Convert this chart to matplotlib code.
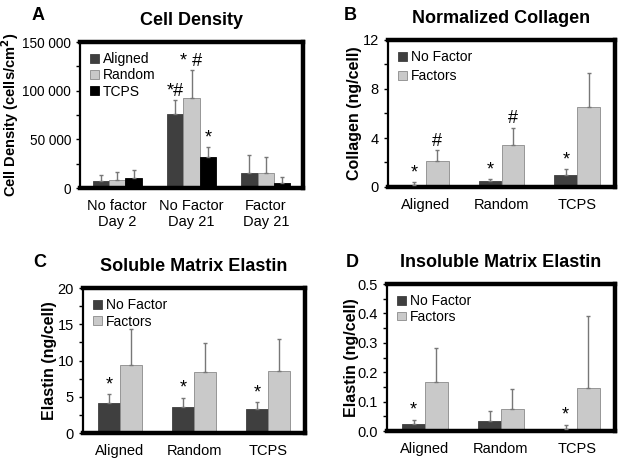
import matplotlib
matplotlib.use("Agg")
import matplotlib.pyplot as plt
import numpy as np
from matplotlib.ticker import MultipleLocator, FuncFormatter

plt.rcParams['font.family'] = ['Liberation Sans', 'DejaVu Sans']

# Panel A: cell density
a_groups = ["No factor\nDay 2", "No Factor\nDay 21", "Factor\nDay 21"]
a_series = ["Aligned", "Random", "TCPS"]
a_aligned = [7500, 76500, 15000]
a_aligned_err = [6000, 13500, 19000]
a_random = [8500, 92500, 15300]
a_random_err = [7800, 28300, 16300]
a_tcps = [10500, 31600, 5100]
a_tcps_err = [7900, 10900, 6100]
a_marks = [["", "*#", ""], ["", "* #", ""], ["", "*", ""]]

# Panels B-D share groups and series
groups = ["Aligned", "Random", "TCPS"]
series = ["No Factor", "Factors"]

b_nofactor = [0.19, 0.49, 0.96]
b_nofactor_err = [0.22, 0.19, 0.49]
b_factors = [2.16, 3.40, 6.49]
b_factors_err = [0.83, 1.45, 2.81]
b_marks = [["*", "*", "*"], ["#", "#", ""]]

c_nofactor = [4.18, 3.59, 3.36]
c_nofactor_err = [1.15, 1.28, 0.92]
c_factors = [9.33, 8.46, 8.55]
c_factors_err = [5.07, 3.91, 4.35]
c_marks = [["*", "*", "*"], ["", "", ""]]

d_nofactor = [0.023, 0.035, 0.007]
d_nofactor_err = [0.016, 0.032, 0.014]
d_factors = [0.167, 0.075, 0.145]
d_factors_err = [0.116, 0.067, 0.245]
d_marks = [["*", "", "*"], ["", "", ""]]

dark = "#3f3f3f"
light = "#c9c9c9"
black = "#000000"


def style_axes(ax, ysize=10.5):
    for side in ["top", "right", "bottom"]:
        ax.spines[side].set_linewidth(3.2)
    ax.spines["left"].set_linewidth(1.6)
    ax.tick_params(axis="y", which="both", direction="out", length=3, width=1,
                   labelsize=ysize)
    ax.tick_params(axis="x", length=0, labelsize=10.5, pad=8)


def draw(ax, vals, errs, colors, names, marks, width, ymax, mark_off, lspace):
    n = len(vals)
    x = np.arange(len(vals[0]))
    for i in range(n):
        pos = x + (i - (n - 1) / 2) * width
        ax.bar(pos, vals[i], width, color=colors[i],
               edgecolor="#8a8a8a" if colors[i] == light else colors[i],
               linewidth=0.6, label=names[i], zorder=2)
        ax.errorbar(pos, vals[i], yerr=[np.zeros(len(vals[i])), errs[i]],
                    fmt="none", ecolor="#777777", elinewidth=1, capsize=1.5,
                    capthick=1, zorder=3)
        for j, m in enumerate(marks[i]):
            if m:
                ax.text(pos[j], vals[i][j] + errs[i][j] + mark_off, m,
                        ha="center", va="bottom", fontsize=13)
    ax.set_xticks(x)
    ax.set_xlim(-0.5, len(x) - 0.5)
    ax.set_ylim(0, ymax)
    ax.legend(loc="upper left", frameon=False, fontsize=10, handlelength=0.6,
              handleheight=0.6, handletextpad=0.3, labelspacing=lspace,
              borderaxespad=0.35)
    style_axes(ax)


fig = plt.figure(figsize=(6.25, 4.65), dpi=100)

axA = fig.add_axes([80 / 625, 1 - 188 / 465, 223 / 625, 146 / 465])
axB = fig.add_axes([388 / 625, 1 - 187 / 465, 227 / 625, 147 / 465])
axC = fig.add_axes([83 / 625, 1 - 433 / 465, 222 / 625, 145 / 465])
axD = fig.add_axes([387 / 625, 1 - 431 / 465, 228 / 625, 147 / 465])

draw(axA, [a_aligned, a_random, a_tcps],
     [a_aligned_err, a_random_err, a_tcps_err],
     [dark, light, black], a_series, a_marks, 0.22, 150000, 0, 0.15)
style_axes(axA, ysize=9.8)
axA.set_xticklabels(a_groups)
axA.yaxis.set_major_locator(MultipleLocator(50000))
axA.yaxis.set_minor_locator(MultipleLocator(25000))
axA.yaxis.set_major_formatter(FuncFormatter(
    lambda v, p: f"{int(v):,}".replace(",", " ")))
axA.set_ylabel("Cell Density (cells/cm$^\\mathbf{2}$)", fontsize=10.5,
               fontweight="bold")
axA.yaxis.set_label_coords(-0.265, 0.5)
axA.set_title("Cell Density", fontsize=13, fontweight="bold", pad=12)

draw(axB, [b_nofactor, b_factors], [b_nofactor_err, b_factors_err],
     [dark, light], series, b_marks, 0.3, 12, 0.05, 0.35)
axB.set_xticklabels(groups)
axB.yaxis.set_major_locator(MultipleLocator(4))
axB.yaxis.set_minor_locator(MultipleLocator(2))
axB.set_ylabel("Collagen (ng/cell)", fontsize=11.5, fontweight="bold")
axB.yaxis.set_label_coords(-0.115, 0.5)
axB.set_title("Normalized Collagen", fontsize=13, fontweight="bold", pad=12)

draw(axC, [c_nofactor, c_factors], [c_nofactor_err, c_factors_err],
     [dark, light], series, c_marks, 0.3, 20, 0.1, 0.15)
axC.set_xticklabels(groups)
axC.yaxis.set_major_locator(MultipleLocator(5))
axC.yaxis.set_minor_locator(MultipleLocator(2.5))
axC.set_ylabel("Elastin (ng/cell)", fontsize=11.5, fontweight="bold")
axC.yaxis.set_label_coords(-0.117, 0.5)
axC.set_title("Soluble Matrix Elastin", fontsize=13, fontweight="bold", pad=12)

draw(axD, [d_nofactor, d_factors], [d_nofactor_err, d_factors_err],
     [dark, light], series, d_marks, 0.3, 0.5, 0.003, 0.1)
axD.set_xticklabels(groups)
axD.yaxis.set_major_locator(MultipleLocator(0.1))
axD.yaxis.set_minor_locator(MultipleLocator(0.05))
axD.yaxis.set_major_formatter(FuncFormatter(lambda v, p: f"{v:.1f}"))
axD.set_ylabel("Elastin (ng/cell)", fontsize=11.5, fontweight="bold")
axD.yaxis.set_label_coords(-0.123, 0.5)
axD.set_title("Insoluble Matrix Elastin", fontsize=13, fontweight="bold", pad=12)

for lab, (x, y) in zip("ABCD", [(38, 15), (350, 15), (40, 262), (352, 262)]):
    fig.text(x / 625, 1 - y / 465, lab, fontsize=13, fontweight="bold",
             ha="center", va="center")

fig.savefig("out.png", dpi=100)
